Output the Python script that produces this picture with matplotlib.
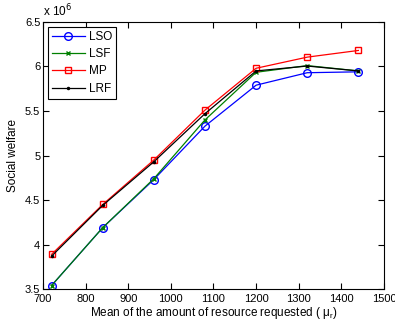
import matplotlib
matplotlib.use("Agg")
import matplotlib.pyplot as plt

plt.rcParams["font.family"] = ["Liberation Sans", "DejaVu Sans"]
plt.rcParams["font.size"] = 8.5

# mean of requested resource
mu_r = [720, 840, 960, 1080, 1200, 1320, 1440]

# social welfare, in units of 1e6
lso = [3.54, 4.19, 4.73, 5.33, 5.79, 5.93, 5.94]
lsf = [3.54, 4.19, 4.74, 5.40, 5.935, 6.01, 5.95]
mp = [3.89, 4.45, 4.95, 5.51, 5.98, 6.105, 6.18]
lrf = [3.87, 4.44, 4.93, 5.47, 5.95, 6.005, 5.95]

x_ticks = list(range(700, 1501, 100))
y_ticks = [3.5, 4, 4.5, 5, 5.5, 6, 6.5]
y_labels = ["3.5", "4", "4.5", "5", "5.5", "6", "6.5"]

fig = plt.figure(figsize=(3.95, 3.23), dpi=100)
ax = fig.add_axes([0.109, 0.105, 0.863, 0.827])

ax.plot(mu_r, lso, color="#0000ff", marker="o", markersize=5.5, mfc="none", lw=0.9, label="LSO")
ax.plot(mu_r, lsf, color="#008000", marker="x", markersize=3.5, lw=0.9, label="LSF")
ax.plot(mu_r, mp, color="#ff0000", marker="s", markersize=4.5, mfc="none", lw=0.9, label="MP")
ax.plot(mu_r, lrf, color="black", marker=".", markersize=3, lw=0.9, label="LRF")

ax.set_xlim(700, 1500)
ax.set_ylim(3.5, 6.5)
ax.set_xticks(x_ticks)
ax.set_yticks(y_ticks)
ax.set_yticklabels(y_labels)
ax.tick_params(direction="in", top=True, right=True, length=4, width=0.8, labelsize=8)
ax.tick_params(axis="x", pad=3.5)
ax.tick_params(axis="y", pad=2)
for s in ax.spines.values():
    s.set_linewidth(0.8)

ax.set_xlabel(r"Mean of the amount of resource requested ( $\mathregular{\mu_r}$)", labelpad=1)
ax.set_ylabel("Social welfare", labelpad=4)
ax.text(0.0, 1.01, r"x 10$^6$", transform=ax.transAxes, ha="left", va="bottom")

leg = ax.legend(loc="upper left", fancybox=False, edgecolor="black", framealpha=1,
                borderaxespad=0.4, handlelength=2.8, labelspacing=0.45, borderpad=0.35,
                handletextpad=0.3)
leg.get_frame().set_linewidth(0.8)

fig.savefig("out.png", dpi=100)
